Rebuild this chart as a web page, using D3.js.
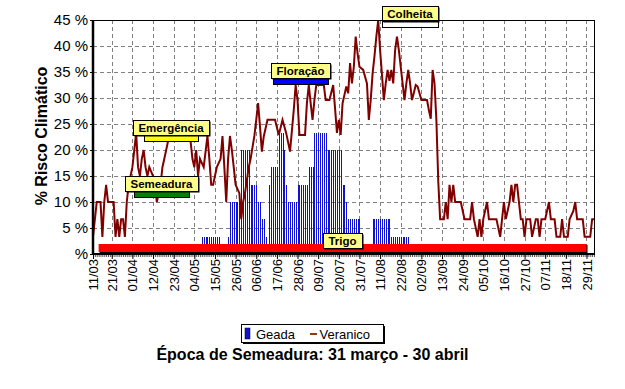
<!DOCTYPE html>
<html>
<head>
<meta charset="utf-8">
<script src="https://cdn.jsdelivr.net/npm/d3@7"></script>
<style>
body { margin: 0; background: #fff; }
text { font-family: "Liberation Sans", Arial, sans-serif; }
</style>
</head>
<body>
<svg id="chart" width="625" height="389"></svg>
<script>
// dates are dd/mm, one non-leap year
var parse = d3.timeParse("%d/%m"),
    fmt = d3.timeFormat("%d/%m");

var tickDates = ["11/03","21/03","01/04","12/04","23/04","04/05","15/05","26/05","06/06","17/06","28/06","09/07",
  "20/07","31/07","11/08","22/08","02/09","13/09","24/09","05/10","16/10","27/10","07/11","18/11","29/11"];
var yTicks = [0, 5, 10, 15, 20, 25, 30, 35, 40, 45];

// Veranico (% risk)
var verDates = ["11/03","13/03","15/03","16/03","17/03","18/03","19/03","22/03","23/03","24/03","25/03","26/03","27/03","28/03",
  "29/03","30/03","31/03","01/04","02/04","03/04","04/04","05/04","06/04","07/04","08/04","09/04","10/04","12/04","13/04",
  "14/04","16/04","17/04","18/04","19/04","20/04","21/04","23/04","25/04","27/04","29/04","01/05","02/05","03/05","04/05",
  "05/05","06/05","07/05","09/05","11/05","12/05","13/05","14/05","16/05","18/05","19/05","20/05","21/05","22/05","23/05",
  "24/05","25/05","26/05","28/05","29/05","30/05","31/05","02/06","03/06","05/06","06/06","07/06","08/06","09/06","10/06",
  "12/06","16/06","18/06","20/06","22/06","24/06","26/06","27/06","28/06","29/06","02/07","03/07","04/07","05/07","06/07",
  "07/07","08/07","12/07","13/07","15/07","17/07","18/07","19/07","20/07","21/07","22/07","23/07","24/07","25/07","26/07",
  "27/07","28/07","29/07","30/07","31/07","02/08","04/08","05/08","06/08","07/08","08/08","09/08","10/08","11/08","12/08",
  "13/08","14/08","15/08","16/08","17/08","18/08","19/08","20/08","21/08","22/08","23/08","24/08","25/08","26/08","27/08",
  "28/08","29/08","30/08","31/08","01/09","02/09","05/09","06/09","07/09","08/09","09/09","10/09","11/09","12/09","14/09",
  "15/09","16/09","17/09","18/09","19/09","20/09","23/09","25/09","28/09","29/09","30/09","02/10","03/10","04/10","05/10",
  "07/10","08/10","12/10","14/10","15/10","16/10","17/10","19/10","20/10","21/10","22/10","23/10","24/10","25/10","26/10",
  "27/10","28/10","30/10","31/10","02/11","03/11","04/11","05/11","07/11","08/11","09/11","10/11","12/11","13/11","15/11",
  "16/11","17/11","19/11","20/11","22/11","23/11","24/11","27/11","28/11","30/11","01/12","02/12","03/12"];
var verValues = [3.3,10,10,3.3,10,13.3,10,10,3.3,6.7,3.3,6.7,6.7,3.3,
  10,13.3,15,16.7,20,23.3,16.7,15,18.3,20,16.7,15,16.7,15,13.3,
  10,13.3,16.7,18.3,20,21.7,23.3,25,23.3,25,23.3,23.3,21.7,18.3,16.7,
  20,15,18.3,16.7,22.7,18.3,13.3,13.3,16.7,18.3,22.7,16.7,10,18.3,22.7,
  20,16.7,13.3,11.7,6.7,10,11.7,16.7,18.3,22.7,25.8,29,24.5,19.7,22.6,
  25.8,25.8,22.9,25.8,23.2,19.7,27.7,32.5,29.6,22.9,22.9,29,32.5,29,25.8,
  29.6,32.5,32.5,29.6,29.6,32.5,28,23.3,25.8,22.9,29,30.6,32.2,30.9,36.7,
  32.8,36,41.8,38.6,36,35.4,32.8,25.8,29.6,34.7,38,41.8,45,39.2,34.5,
  29.6,32.8,35.4,33.3,35.4,32.8,39.2,41.8,39.2,36,32.8,29.6,32.8,35.4,32.8,
  29.6,31,32.5,32.2,30.9,29.6,29.6,27.7,26,35.4,32.8,25.8,14,6.7,6.7,
  10,6.7,13.3,10,13.3,10,10,6.7,6.7,10,6.7,3.3,6.7,3.3,6.7,
  10,6.7,6.7,3.3,6.7,10,6.7,10,13.3,10,13.3,13.3,10,6.7,6.7,
  3.3,6.7,6.7,3.3,6.7,6.7,3.3,6.7,6.7,8.3,10,6.7,6.7,3.3,3.3,
  6.7,3.3,3.3,6.7,8.3,10,6.7,6.7,3.3,3.3,3.3,6.7,6.7];

// Geada (% risk), one value per day from geadaStart
var geadaStart = "08/05";
var geadaValues = [3.3,3.3,3.3,3.3,3.3,3.3,3.3,3.3,3.3,3.3, 0,0,0,0, 3.3,
  10,10,10,10,10,10, 20,20,20,20,20, 13.3,13.3,13.3,13.3, 10,10, 6.7,6.7, 3.3, 0,
  13.3, 16.7,16.7,16.7,16.7, 23.3,23.3,23.3, 20, 13.3, 10,10,10,10,10,
  13.3,13.3,13.3,13.3,13.3,13.3, 16.7,16.7,16.7, 23.3,23.3,23.3,23.3,23.3,23.3,23.3,
  20,20,20,20,20,20,20,20, 13.3,13.3, 10, 6.7,6.7,6.7,6.7,6.7,6.7,6.7,
  0,0,0,0,0,0, 6.7,6.7,6.7,6.7,6.7,6.7,6.7,6.7,6.7,6.7,
  3.3,3.3,3.3,3.3,3.3,3.3,3.3,3.3,3.3,3.3];

// crop phases
var phaseNames = ["Semeadura", "Emergência", "Floração", "Colheita"];
var phaseStart = ["02/04", "07/04", "15/06", "12/08"];
var phaseEnd = ["01/05", "06/05", "14/07", "11/09"];
var phaseColors = ["#008000", "#ffff00", "#0000ff", "#ffffff"];
var cycleName = "Trigo", cycleStart = "14/03", cycleEnd = "29/11";

var svg = d3.select("#chart");
var margin = {top: 20, right: 31, bottom: 135, left: 93},
    width = 625 - margin.left - margin.right,
    height = 389 - margin.top - margin.bottom;

var g = svg.append("g")
    .attr("transform", "translate(" + margin.left + "," + margin.top + ")");

var x = d3.scaleTime().domain([parse("11/03"), parse("03/12")]).range([0, width]);
var y = d3.scaleLinear().domain([0, 45]).range([height, 0]);

// grid
g.append("g").selectAll("line")
    .data(yTicks.filter(function(v) { return v > 0 && v < 45; }))
  .enter().append("line")
    .attr("x1", 0).attr("x2", width)
    .attr("y1", function(d) { return Math.round(y(d)) + 0.5; })
    .attr("y2", function(d) { return Math.round(y(d)) + 0.5; })
    .attr("stroke", "#808080").attr("stroke-dasharray", "4,3");
g.append("g").selectAll("line")
    .data(tickDates.slice(1))
  .enter().append("line")
    .attr("x1", function(d) { return Math.round(x(parse(d))) + 0.5; })
    .attr("x2", function(d) { return Math.round(x(parse(d))) + 0.5; })
    .attr("y1", 0).attr("y2", height)
    .attr("stroke", "#808080").attr("stroke-dasharray", "4,3");

// geada bars
var gs = parse(geadaStart);
var geada = geadaValues.map(function(v, i) { return {date: d3.timeDay.offset(gs, i), value: v}; })
    .filter(function(d) { return d.value > 0; });
g.append("g").selectAll("rect")
    .data(geada)
  .enter().append("rect")
    .attr("x", function(d) { return Math.round(x(d.date)); })
    .attr("width", 1)
    .attr("y", function(d) { return y(d.value); })
    .attr("height", function(d) { return height - y(d.value); })
    .attr("fill", "#1010d0")
    .attr("shape-rendering", "crispEdges");

// veranico line
var ver = verDates.map(function(d, i) { return {date: parse(d), value: verValues[i]}; });
var line = d3.line()
    .x(function(d) { return x(d.date); })
    .y(function(d) { return y(d.value); });
g.append("path")
    .datum(ver)
    .attr("d", line)
    .attr("fill", "none")
    .attr("stroke", "#800000")
    .attr("stroke-width", 2);

// label box with shadow, centred on cx, sitting on bottomY
function labelBox(cx, bottomY, txt) {
  var lg = g.append("g");
  var shadow = lg.append("rect").attr("fill", "#000");
  var box = lg.append("rect").attr("fill", "#ffff88").attr("stroke", "#000");
  var t = lg.append("text").text(txt)
      .attr("text-anchor", "middle")
      .attr("font-size", "11.5px").attr("font-weight", "bold");
  var w = Math.round(t.node().getComputedTextLength() + 11), h = 15;
  var bx = Math.round(cx - w / 2) + 0.5, by = Math.round(bottomY - h) + 0.5;
  shadow.attr("x", bx + 1).attr("y", by + 1).attr("width", w).attr("height", h);
  box.attr("x", bx).attr("y", by).attr("width", w).attr("height", h);
  t.attr("x", cx).attr("y", by + 11.5);
}

// cycle bar
var cx0 = x(parse(cycleStart)), cx1 = x(parse(cycleEnd));
g.append("rect").attr("x", cx0 + 1).attr("y", height - 9).attr("width", cx1 - cx0).attr("height", 8).attr("fill", "#000");
g.append("rect").attr("x", cx0).attr("y", height - 10).attr("width", cx1 - cx0).attr("height", 8).attr("fill", "#ff0000");

// phases
phaseNames.forEach(function(name, i) {
  var x0 = Math.round(x(parse(phaseStart[i]))), x1 = Math.round(x(parse(phaseEnd[i])));
  var bottom = Math.round(y(10.9 * (i + 1)));
  g.append("rect").attr("x", x0 + 0.5).attr("y", bottom - 6 + 0.5)
      .attr("width", x1 - x0).attr("height", 6)
      .attr("fill", phaseColors[i]).attr("stroke", "#000");
  labelBox((x0 + x1) / 2, bottom - 6, name);
});
labelBox((cx0 + cx1) / 2, height - 6, cycleName);

// axes
var yAxis = g.append("g")
    .call(d3.axisLeft(y).tickValues(yTicks).tickSize(3).tickPadding(2)
      .tickFormat(function(d) { return d === 0 ? "%" : d + " %"; }));
yAxis.select(".domain").remove();
yAxis.selectAll("text").attr("font-size", "15px").attr("fill", "#000").style("font-family", "'Liberation Sans', Arial, sans-serif");

var xMinor = g.append("g")
    .attr("transform", "translate(0," + height + ")")
    .call(d3.axisBottom(x).ticks(d3.timeDay.every(1)).tickSize(3).tickFormat(""));
xMinor.select(".domain").remove();
xMinor.selectAll("line").attr("stroke", "#555");

var xAxis = g.append("g")
    .attr("transform", "translate(0," + height + ")")
    .call(d3.axisBottom(x).tickValues(tickDates.map(parse)).tickSize(5).tickFormat(fmt));
xAxis.select(".domain").remove();
xAxis.selectAll("text")
    .attr("transform", "rotate(-90)")
    .attr("text-anchor", "end")
    .attr("x", -5).attr("y", 0).attr("dy", "0.35em")
    .attr("font-size", "13px").attr("fill", "#000")
    .style("font-family", "'Liberation Sans', Arial, sans-serif");

// frame
g.append("line").attr("x1", 0).attr("x2", width).attr("y1", 0.5).attr("y2", 0.5).attr("stroke", "#000");
g.append("line").attr("x1", width + 0.5).attr("x2", width + 0.5).attr("y1", 0).attr("y2", height).attr("stroke", "#000");
g.append("line").attr("x1", -1).attr("x2", width + 1).attr("y1", height).attr("y2", height).attr("stroke", "#000").attr("stroke-width", 2);
g.append("line").attr("x1", 0).attr("x2", 0).attr("y1", 0).attr("y2", height + 1).attr("stroke", "#000").attr("stroke-width", 2.5);

// y title
svg.append("text")
    .attr("transform", "translate(41,136) rotate(-90)")
    .attr("text-anchor", "middle").attr("dy", "0.35em")
    .attr("font-size", "16px").attr("font-weight", "bold")
    .text("% Risco Climático");

// legend
var leg = svg.append("g");
leg.append("rect").attr("x", 243).attr("y", 326).attr("width", 142).attr("height", 18).attr("fill", "#000");
leg.append("rect").attr("x", 241.5).attr("y", 324.5).attr("width", 142).attr("height", 18).attr("fill", "#fff").attr("stroke", "#000");
leg.append("rect").attr("x", 245).attr("y", 328).attr("width", 5).attr("height", 11).attr("fill", "#1010d0").attr("stroke", "#000").attr("stroke-width", 0.5);
leg.append("text").attr("x", 256).attr("y", 339).attr("font-size", "13px").text("Geada");
leg.append("line").attr("x1", 310).attr("x2", 317).attr("y1", 334).attr("y2", 334).attr("stroke", "#8b3a1a").attr("stroke-width", 2);
leg.append("text").attr("x", 319.5).attr("y", 339).attr("font-size", "13px").text("Veranico");

// title
svg.append("text")
    .attr("x", 312.5).attr("y", 360)
    .attr("text-anchor", "middle")
    .attr("font-size", "16px").attr("font-weight", "bold")
    .text("Época de Semeadura: 31 março - 30 abril");
</script>
</body>
</html>
